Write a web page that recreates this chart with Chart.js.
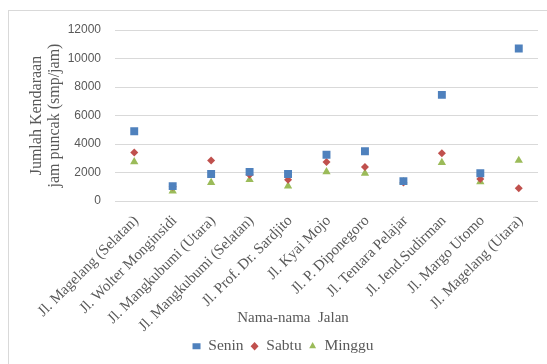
<!DOCTYPE html>
<html>
<head>
<meta charset="utf-8">
<script src="https://cdn.jsdelivr.net/npm/chart.js@4/dist/chart.umd.min.js"></script>
<style>
  html, body { margin: 0; padding: 0; background: #ffffff; }
  #frame { position: absolute; left: 8px; top: 10px; width: 539px; height: 354px;
           border-top: 1px solid #d9d9d9; border-left: 1px solid #d9d9d9; box-sizing: border-box; }
  #wrap { position: absolute; left: 0; top: 0; width: 547px; height: 364px; }
</style>
</head>
<body>
<div id="frame"></div>
<div id="wrap"><canvas id="c" width="547" height="364"></canvas></div>
<script>
// Peak-hour traffic volume per street (smp/jam)
const streets = [
  'Jl. Magelang (Selatan)', 'Jl. Wolter Monginsidi', 'Jl. Mangkubumi (Utara)',
  'Jl. Mangkubumi (Selatan)', 'Jl. Prof. Dr. Sardjito', 'Jl. Kyai Mojo',
  'Jl. P. Diponegoro', 'Jl. Tentara Pelajar', 'Jl. Jend.Sudirman',
  'Jl. Margo Utomo', 'Jl. Magelang (Utara)'
];
const senin  = [4900, 1050, 1900, 2050, 1900, 3250, 3500, 1400, 7450, 1950, 10700];
const sabtu  = [3400, 1000, 2850, 1850, 1500, 2750, 2400, 1300, 3350, 1550, 900];
const minggu = [2750, 700, 1300, 1500, 1050, 2050, 1950, 1350, 2700, 1350, 2850];
const yTicks = [0, 2000, 4000, 6000, 8000, 10000, 12000];
const xTitle = 'Nama-nama  Jalan';

const serif = "'Liberation Serif', 'Times New Roman', serif";
const sans = "'Liberation Sans', Arial, sans-serif";

// The category-axis title sits a little left of the plot centre, under the labels
const xTitlePlugin = {
  id: 'xTitle',
  afterDraw(chart) {
    const ctx = chart.ctx;
    ctx.save();
    ctx.font = '15px ' + serif;
    ctx.fillStyle = '#595959';
    ctx.textAlign = 'center';
    ctx.textBaseline = 'middle';
    ctx.fillText(xTitle, 293, 318);
    ctx.restore();
  }
};

new Chart(document.getElementById('c'), {
  type: 'line',
  data: {
    labels: streets,
    datasets: [
      { label: 'Senin', data: senin, showLine: false, pointStyle: 'rect',
        pointRadius: 5.6, pointHoverRadius: 5.6,
        backgroundColor: '#4f81bd', borderColor: '#4f81bd', pointBorderWidth: 0 },
      { label: 'Sabtu', data: sabtu, showLine: false, pointStyle: 'rectRot',
        pointRadius: 4, pointHoverRadius: 4,
        backgroundColor: '#c0504d', borderColor: '#c0504d', pointBorderWidth: 0 },
      { label: 'Minggu', data: minggu, showLine: false, pointStyle: 'triangle',
        pointRadius: 4.8, pointHoverRadius: 4.8,
        backgroundColor: '#9bbb59', borderColor: '#9bbb59', pointBorderWidth: 0 }
    ]
  },
  plugins: [xTitlePlugin],
  options: {
    responsive: false,
    animation: false,
    layout: { padding: { left: 28, right: 9, top: 30, bottom: 0 } },
    plugins: {
      tooltip: { enabled: false },
      legend: {
        position: 'bottom',
        labels: {
          usePointStyle: true, pointStyleWidth: 8, boxHeight: 6,
          color: '#595959', font: { family: serif, size: 15.5 }, padding: 7
        }
      }
    },
    scales: {
      x: {
        offset: true,
        afterFit: (s) => { s.height = 130.4; },
        grid: { display: false, drawTicks: false },
        border: { display: false },
        ticks: {
          autoSkip: false, maxRotation: 45, minRotation: 45, padding: 11, labelOffset: 2,
          color: '#595959', font: { family: serif, size: 15 }
        }
      },
      y: {
        min: 0, max: 12000,
        afterBuildTicks: (s) => { s.ticks = yTicks.map(v => ({ value: v })); },
        afterFit: (s) => { s.width = 87; },
        grid: { color: '#d9d9d9', lineWidth: 1, drawTicks: false },
        border: { display: false },
        ticks: {
          padding: 14, color: '#595959', font: { family: sans, size: 12 },
          callback: (v) => String(v)
        },
        title: {
          display: true, text: ['Jumlah Kendaraan', 'jam puncak (smp/jam)'],
          color: '#595959', font: { family: serif, size: 16, lineHeight: 1.125 },
          padding: { top: 0, bottom: 0 }
        }
      }
    }
  }
});
</script>
</body>
</html>
